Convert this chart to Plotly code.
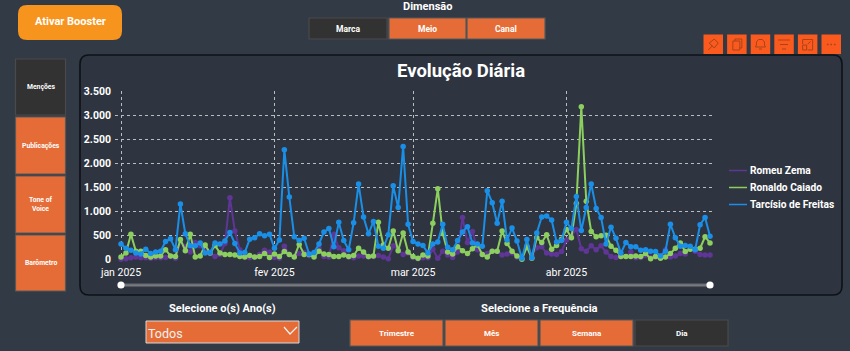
import pandas as pd
import plotly.graph_objects as go

W, H = 850, 351

# ---------- data ----------
zema = [0,10,30,50,30,30,20,30,30,40,60,20,380,260,150,350,280,200,120,60,100,330,1280,590,200,60,30,50,100,190,150,
        40,20,270,100,60,120,140,80,70,230,60,50,520,240,180,50,30,70,70,50,60,80,50,10,280,200,100,130,
        40,10,30,30,210,20,170,90,40,150,870,350,580,200,100,120,170,170,90,110,130,50,30,250,90,240,260,130,110,100,160,
        400,490,620,220,170,280,200,280,150,60,40,70,60,150,30,40,80,40,50,70,200,50,70,120,110,240,170,100,90,90]
caiado = [50,130,520,170,170,80,50,70,70,200,70,60,410,180,520,50,70,300,130,290,130,100,100,90,60,50,80,50,60,120,40,
          110,60,160,100,50,310,100,100,50,170,110,100,60,60,90,60,80,230,150,60,70,770,300,230,590,180,550,150,
          60,20,90,70,750,1470,540,150,110,260,180,120,220,300,100,50,170,170,590,330,170,70,0,260,20,450,350,510,210,290,420,
          620,450,1160,3180,1210,580,470,490,500,270,190,60,60,60,70,60,120,10,60,20,50,120,230,340,160,210,210,230,470,340]
freitas = [320,230,190,130,110,210,120,150,170,370,430,200,1150,530,280,280,340,130,140,340,320,380,560,330,130,140,420,450,530,490,520,
           230,400,2280,1300,470,390,440,110,140,320,570,640,260,770,390,200,760,1570,880,530,790,270,230,510,1530,1080,2350,730,
           370,320,290,130,320,360,730,250,200,390,570,680,340,320,270,1430,1180,750,1210,400,650,380,20,410,30,550,880,900,820,360,390,
           770,640,1310,600,1080,1570,1060,870,320,670,440,130,350,260,260,190,200,170,160,70,170,730,450,270,290,270,200,720,870,480]
dates = pd.date_range("2025-01-01", "2025-04-30", freq="D")
series_names = ["Romeu Zema", "Ronaldo Caiado", "Tarcísio de Freitas"]
series_values = [zema, caiado, freitas]
series_colors = ["#5f3596", "#8ccf5f", "#1a8fe8"]
x_tick_vals = ["2025-01-01", "2025-02-01", "2025-03-01", "2025-04-01"]
x_tick_text = ["jan 2025", "fev 2025", "mar 2025", "abr 2025"]
y_tick_vals = [0, 500, 1000, 1500, 2000, 2500, 3000, 3500]

# ---------- helpers ----------
BG = "#323a46"
PANEL = "#2f3540"
ORANGE = "#e56c36"
DARK = "#323232"
ICON = "#fb5a1e"
GLYPH = "#a8431c"
FONT = "Roboto"

def px(x): return x / W
def py(y): return 1 - y / H

shapes, notes = [], []

def rect(x0, y0, x1, y1, fill, line=None, lw=1):
    shapes.append(dict(type="rect", xref="paper", yref="paper", layer="below",
                       x0=px(x0), x1=px(x1), y0=py(y1), y1=py(y0), fillcolor=fill,
                       line=dict(color=line or fill, width=lw if line else 0)))

def rrect(x0, y0, x1, y1, r, fill, line=None, lw=1):
    p = (f"M {px(x0+r)} {py(y0)} L {px(x1-r)} {py(y0)} Q {px(x1)} {py(y0)} {px(x1)} {py(y0+r)} "
         f"L {px(x1)} {py(y1-r)} Q {px(x1)} {py(y1)} {px(x1-r)} {py(y1)} "
         f"L {px(x0+r)} {py(y1)} Q {px(x0)} {py(y1)} {px(x0)} {py(y1-r)} "
         f"L {px(x0)} {py(y0+r)} Q {px(x0)} {py(y0)} {px(x0+r)} {py(y0)} Z")
    shapes.append(dict(type="path", xref="paper", yref="paper", layer="below", path=p,
                       fillcolor=fill, line=dict(color=line or fill, width=lw if line else 0)))

def poly(points, color, lw=1, closed=False, layer="above"):
    p = "M " + " L ".join(f"{px(a)} {py(b)}" for a, b in points) + (" Z" if closed else "")
    shapes.append(dict(type="path", xref="paper", yref="paper", layer=layer, path=p,
                       line=dict(color=color, width=lw)))

def text(x, y, s, size, bold=True, color="white", anchor="center"):
    notes.append(dict(xref="paper", yref="paper", x=px(x), y=py(y), text=f"<b>{s}</b>" if bold else s,
                      showarrow=False, xanchor=anchor, yanchor="middle",
                      font=dict(family=FONT, size=size, color=color)))

def button(x0, y0, x1, y1, label, active=False, size=8):
    rect(x0, y0, x1, y1, DARK if active else ORANGE, "#4a4a4a" if active else "#585858", 1.2)
    text((x0 + x1) / 2, (y0 + y1) / 2, label, size)

# ---------- page furniture ----------
rrect(18, 5, 122, 40, 9, "#f7941d")
text(70, 22, "Ativar Booster", 11)
text(427, 6.5, "Dimensão", 11)
button(309, 18, 387, 39, "Marca", True, 8.5)
button(389, 18, 466, 39, "Meio", False, 8.5)
button(467, 18, 545, 39, "Canal", False, 8.5)
button(15.5, 59, 65.5, 115, "Menções", True, 6.8)
button(15.5, 117, 65.5, 174, "Publicações", False, 6.8)
button(15.5, 176, 65.5, 233, "Tone of<br>Voice", False, 6.8)
button(15.5, 235, 65.5, 291, "Barômetro", False, 6.8)
rrect(80, 55, 842, 295, 9, PANEL, "#0e1116", 1.6)

# toolbar icons
for i in range(6):
    x0 = 703.5 + i * 23.6
    rect(x0, 34.5, x0 + 19.5, 54, ICON)
    c = x0 + 9.75
    if i == 0:
        poly([(c-5,50),(c-1,46),(c-4,43),(c+1,39),(c+5,43),(c+1,48),(c-2,45)], GLYPH)
    elif i == 1:
        poly([(c-4,41),(c+3,41),(c+3,50),(c-4,50)], GLYPH, closed=True)
        poly([(c-2,41),(c-2,39),(c+5,39),(c+5,48),(c+3,48)], GLYPH)
    elif i == 2:
        poly([(c-5,47),(c-4,45),(c-4,42),(c-2,39.5),(c+2,39.5),(c+4,42),(c+4,45),(c+5,47)], GLYPH, closed=True)
        poly([(c-1.5,49),(c+1.5,49)], GLYPH)
    elif i == 3:
        poly([(c-6,40),(c+6,40)], GLYPH)
        poly([(c-4,44.5),(c+4,44.5)], GLYPH)
        poly([(c-2,49),(c+2,49)], GLYPH)
    elif i == 4:
        poly([(c-5,44),(c-5,39.5),(c+5,39.5),(c+5,50),(c,50)], GLYPH)
        poly([(c-5,45),(c-1,45),(c-1,50),(c-5,50)], GLYPH, closed=True)
        poly([(c,44),(c+3,41.5)], GLYPH)
    else:
        for d in (-3.5, 0, 3.5):
            poly([(c+d-0.8,44.5),(c+d+0.8,44.5)], GLYPH, 1.5)

# slider
rect(121, 283.8, 710, 286.6, "#77797e", "#55585d", 0.8)
for cx in (121, 710):
    shapes.append(dict(type="circle", xref="paper", yref="paper", layer="above",
                       x0=px(cx-3.6), x1=px(cx+3.6), y0=py(288.6), y1=py(281.4),
                       fillcolor="white", line=dict(width=0)))

# legend keys and labels
legend_rows = [170.5, 187.5, 204.5]
for row, name, col in zip(legend_rows, series_names, series_colors):
    poly([(729, row), (747, row)], col, 1.5)
    text(747.5, row, name, 10.2, anchor="left")

# bottom controls
text(222, 308, "Selecione o(s) Ano(s)", 11)
rect(146, 321, 299, 343, ORANGE, "#d8d8d8", 1)
text(146, 333, "Todos", 12.5, bold=False, color="#f2f2f2", anchor="left")
poly([(284, 327), (290, 334), (297, 327)], "#f2f2f2", 1.2)
text(539, 308, "Selecione a Frequência", 11.2)
button(350, 320, 443, 346, "Trimestre")
button(445, 320, 538, 346, "Mês")
button(540, 320, 633, 346, "Semana")
button(635, 320, 728, 346, "Dia", True)

# ---------- chart ----------
fig = go.Figure()
for name, vals, col in zip(series_names, series_values, series_colors):
    fig.add_trace(go.Scatter(x=dates, y=vals, mode="lines+markers", name=name, showlegend=False,
                             line=dict(color=col, width=2), marker=dict(color=col, size=5.5),
                             cliponaxis=False, hoverinfo="skip"))

grid = "#b9bcc1"
fig.update_layout(
    width=W, height=H, autosize=False, margin=dict(l=0, r=0, t=0, b=0, autoexpand=False),
    paper_bgcolor=BG, plot_bgcolor="rgba(0,0,0,0)", separators=",.", showlegend=False,
    shapes=shapes, annotations=notes + [dict(
        xref="paper", yref="paper", x=px(461), y=py(71), text="<b>Evolução Diária</b>", showarrow=False,
        xanchor="center", yanchor="middle", font=dict(family=FONT, size=18.5, color="white"))],
    font=dict(family=FONT, color="white"),
    xaxis=dict(domain=[px(115), px(715)], range=["2024-12-30 18:50", "2025-05-01 00:15"], type="date",
               tickmode="array", tickvals=x_tick_vals, ticktext=x_tick_text, showgrid=True,
               gridcolor=grid, griddash="3px,3px", gridwidth=1, zeroline=False, showline=False, ticks="",
               ticklabelstandoff=5, tickfont=dict(family=FONT, size=10.5, color="white")),
    yaxis=dict(domain=[py(259.3), py(91.3)], range=[0, 3500], tickmode="array", tickvals=y_tick_vals,
               tickformat=",d", showgrid=True, gridcolor=grid, griddash="3px,3px", gridwidth=1,
               zeroline=False, showline=False, ticks="", ticklabelstandoff=3,
               tickfont=dict(family=FONT, size=10.5, color="white", weight="bold")),
)

fig.write_html("out.html", config=dict(displayModeBar=False),
               post_script="document.body.style.margin='0';document.body.style.overflow='hidden';")
